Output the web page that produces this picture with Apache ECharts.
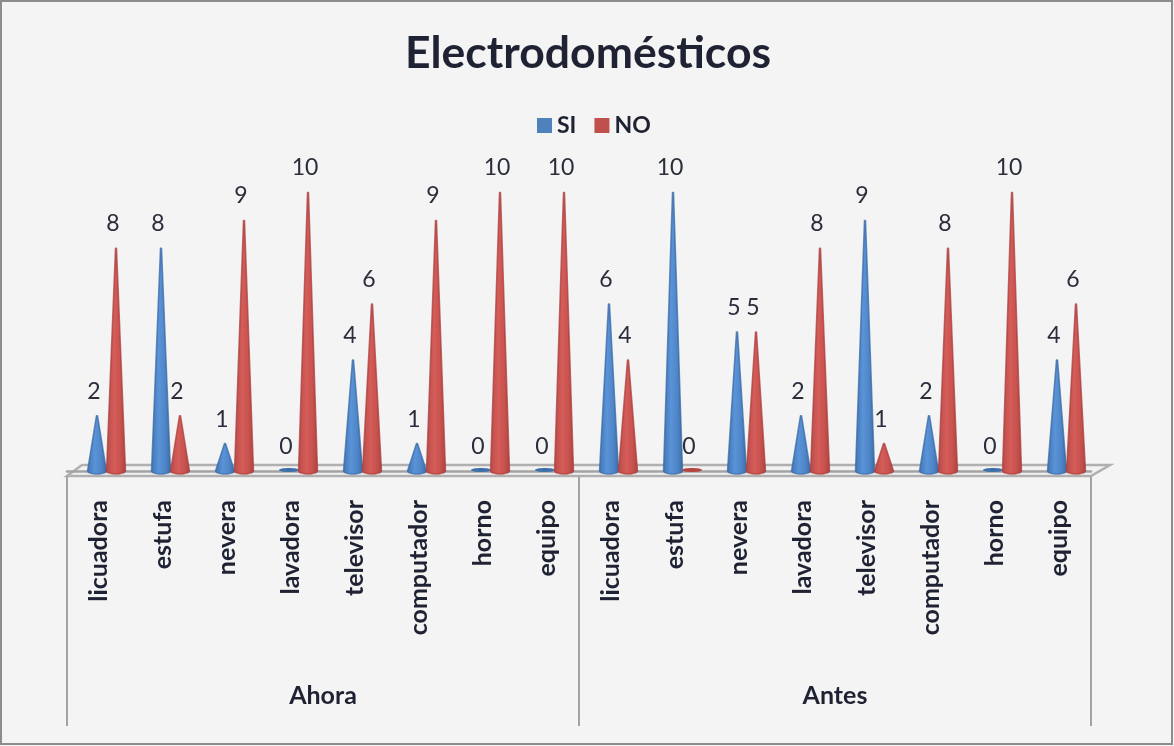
<!DOCTYPE html>
<html><head><meta charset="utf-8">
<style>html,body{margin:0;padding:0;background:#f4f4f4}#c{width:1174px;height:746px}</style>
<script src="https://cdn.jsdelivr.net/npm/echarts@6/dist/echarts.min.js"></script>
</head><body><div id="c"></div>
<script>
const appliances = ['licuadora','estufa','nevera','lavadora','televisor','computador','horno','equipo'];
const periods = ['Ahora','Antes'];
const siAhora = [2,8,1,0,4,1,0,0];
const noAhora = [8,2,9,10,6,9,10,10];
const siAntes = [6,10,5,2,9,2,0,4];
const noAntes = [4,0,5,8,1,8,10,6];
const categories = appliances.concat(appliances);
const siValues = siAhora.concat(siAntes);
const noValues = noAhora.concat(noAntes);

const font = 'Lato, "Open Sans", sans-serif';
const ink = '#1f2233';
const frame = '#a3a3a3';

function coneRenderer(dx, stops, flat, edge) {
  return function (params, api) {
    const v = api.value(1);
    const base = api.coord([api.value(0), 0]);
    const tip = api.coord([api.value(0), v]);
    const cx = base[0] + dx, rx = 9.5, ry = 3;
    const fill = new echarts.graphic.LinearGradient(0, 0, 1, 0, stops);
    const children = [];
    if (v === 0) {
      children.push({type:'ellipse', shape:{cx:cx, cy:base[1]-1, rx:rx+0.5, ry:2}, style:{fill:flat}});
    } else {
      const pts = [[cx-0.5, tip[1]+0.5], [cx+0.5, tip[1]+0.5]];
      for (let a = 0; a <= 180; a += 15) {
        pts.push([cx + rx*Math.cos(a*Math.PI/180), base[1] + ry*Math.sin(a*Math.PI/180)]);
      }
      children.push({type:'polygon', shape:{points:pts}, style:{fill:fill, stroke:edge, lineWidth:1.5, lineJoin:'round'}});
    }
    children.push({type:'text', style:{
      text:String(v), x:cx-3, y:tip[1]-24, align:'center', verticalAlign:'middle',
      font:'23px '+font, fill:'#2a2d3a'}});
    return {type:'group', children:children};
  };
}
const blueStops = [{offset:0,color:'#3f74b2'},{offset:.4,color:'#5a93d8'},{offset:.7,color:'#4f86c8'},{offset:1,color:'#3a6aa5'}];
const redStops = [{offset:0,color:'#b84a48'},{offset:.4,color:'#d45c59'},{offset:.7,color:'#c9534f'},{offset:1,color:'#ae4341'}];

const chart = echarts.init(document.getElementById('c'), null, {renderer:'canvas'});
chart.setOption({
  backgroundColor:'#f4f4f4',
  animation:false,
  title:{text:'Electrodomésticos', left:583, top:26, textAlign:'center',
    textStyle:{fontFamily:font, fontWeight:'bold', fontSize:44.5, color:ink}},
  legend:{left:532, top:109, itemWidth:15, itemHeight:15, itemGap:18, icon:'rect',
    data:['SI','NO'], textStyle:{fontFamily:font, fontWeight:'bold', fontSize:23, color:ink, padding:[0,0,0,0]}},
  grid:{left:67, right:83, top:192, bottom:275},
  xAxis:[
    {type:'category', data:categories, position:'bottom', offset:5,
     axisLine:{show:true, lineStyle:{color:frame, width:2.5}}, axisTick:{show:false},
     axisLabel:{interval:0, rotate:90, margin:24, fontFamily:font, fontWeight:'bold', fontSize:25, color:ink}},
    {type:'category', data:periods, position:'bottom', offset:5,
     axisLine:{show:false}, axisTick:{show:true, length:250, lineStyle:{color:frame, width:2}},
     axisLabel:{margin:207, fontFamily:font, fontWeight:'bold', fontSize:25, color:ink}}
  ],
  yAxis:{type:'value', min:0, max:10, show:false, splitLine:{show:false}},
  graphic:[
    {type:'rect', z:-1, shape:{x:1,y:1,width:1171,height:743}, style:{fill:'none', stroke:'#8c8c8c', lineWidth:2}},
    {type:'polygon', z:0, shape:{points:[[67,476],[82,465],[1110,465],[1091,476]]},
     style:{fill:'#f2f2f2', stroke:'#b0b0b0', lineWidth:2.5}}
  ],
  series:[
    {name:'SI', type:'custom', coordinateSystem:'cartesian2d', xAxisIndex:0,
     itemStyle:{color:'#4f81bd'}, data:siValues.map((v,i)=>[i,v]), encode:{x:0,y:1},
     renderItem:coneRenderer(-2, blueStops, '#3d6fa8', 'rgba(58,106,165,0.75)'), z:3},
    {name:'NO', type:'custom', coordinateSystem:'cartesian2d', xAxisIndex:0,
     itemStyle:{color:'#c0504d'}, data:noValues.map((v,i)=>[i,v]), encode:{x:0,y:1},
     renderItem:coneRenderer(17, redStops, '#b5443f', 'rgba(170,64,62,0.75)'), z:4}
  ]
});
</script></body></html>
